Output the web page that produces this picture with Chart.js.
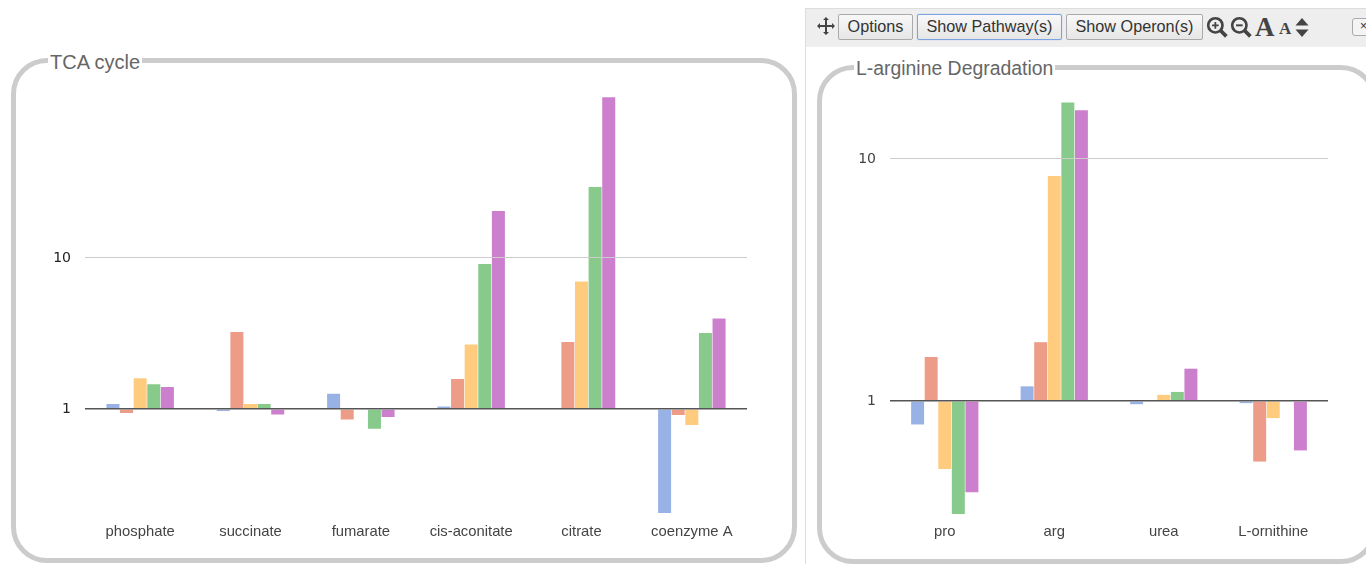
<!DOCTYPE html>
<html>
<head>
<meta charset="utf-8">
<script src="https://cdn.jsdelivr.net/npm/chart.js@4"></script>
<style>
    html, body { margin: 0; padding: 0; background: #fff; overflow: hidden; }
    body { width: 1366px; height: 564px; position: relative; font-family: "Liberation Sans", Arial, sans-serif; }
    .frame { position: absolute; border: 5px solid #ccc; border-radius: 36px; box-sizing: border-box; }
    .frame-title { position: absolute; background: #fff; color: #555; font-size: 20px; line-height: 24px; padding: 0 2px; white-space: nowrap; }
    canvas { position: absolute; left: 0; top: 0; }
    #panel { position: absolute; left: 805px; top: 8px; width: 561px; height: 556px; border-left: 1px solid #ddd; border-top: 1px solid #ddd; box-sizing: border-box; }
    #toolbar { position: absolute; left: 0; top: 0; width: 100%; height: 38px; background: #eee; }
    .btn { position: absolute; top: 5px; height: 26px; box-sizing: border-box; border: 1px solid #aaa; border-radius: 2px; background: linear-gradient(#f8f8f8, #e6e6e6); color: #333; font-size: 16.2px; line-height: 23px; text-align: center; white-space: nowrap; }
    .btn.active { border-color: #7aa3e0; box-shadow: 0 0 1px #7aa3e0; }
    .icon { position: absolute; color: #444; }
</style>
</head>
<body>
<div id="panel">
    <div id="toolbar">
        <svg class="icon" style="left:11px;top:8px" width="18" height="18" viewBox="0 0 18 18" fill="#444">
            <path d="M9 0l3 3h-2v5h5V6l3 3-3 3v-2h-5v5h2l-3 3-3-3h2v-5H3v2L0 9l3-3v2h5V3H6z"/>
        </svg>
        <div class="btn" style="left:32px;width:75px">Options</div>
        <div class="btn active" style="left:111px;width:145px">Show Pathway(s)</div>
        <div class="btn" style="left:260px;width:137px">Show Operon(s)</div>
        <svg class="icon" style="left:400px;top:7px" width="22" height="22" viewBox="0 0 20 20" fill="none" stroke="#444">
            <circle cx="8.5" cy="8.5" r="6.5" stroke-width="2.4"/><path d="M13 13l5.5 5.5" stroke-width="3.4"/><path d="M5.5 8.5h6M8.5 5.5v6" stroke-width="1.6"/>
        </svg>
        <svg class="icon" style="left:424px;top:7px" width="22" height="22" viewBox="0 0 20 20" fill="none" stroke="#444">
            <circle cx="8.5" cy="8.5" r="6.5" stroke-width="2.4"/><path d="M13 13l5.5 5.5" stroke-width="3.4"/><path d="M5.5 8.5h6" stroke-width="1.8"/>
        </svg>
        <div class="icon" style="left:449px;top:3px;font:bold 27px 'Liberation Serif',serif">A</div>
        <div class="icon" style="left:473px;top:10px;font:bold 17px 'Liberation Serif',serif">A</div>
        <svg class="icon" style="left:489px;top:9px" width="14" height="19" viewBox="0 0 14 19" fill="#444">
            <path d="M7 0l6.5 7.5H.5zM7 19l6.5-7.5H.5z"/>
        </svg>
        <div class="btn" style="left:546px;top:9px;width:30px;height:18px;line-height:15px;font-size:12px;text-align:left;padding-left:7px;background:#f4f4f4;border-radius:3px">×</div>
    </div>
</div>

<div class="frame" style="left:11px;top:58px;width:786px;height:505px"></div>
<div class="frame-title" style="left:48px;top:50px;color:#666">TCA cycle</div>
<div class="frame" style="left:817px;top:65px;width:560px;height:499px"></div>
<div class="frame-title" style="left:854px;top:56px;font-size:19.4px;color:#666">L-arginine Degradation</div>

<canvas id="tca" width="800" height="564"></canvas>
<canvas id="arginine" width="566" height="564" style="left:800px"></canvas>

<script>
    const tcaLabels = ['phosphate', 'succinate', 'fumarate', 'cis-aconitate', 'citrate', 'coenzyme A'];
    const tcaSeries1 = [1.08, 0.97, 1.26, 1.04, 1.0, 0.205];
    const tcaSeries2 = [0.94, 3.23, 0.85, 1.58, 2.78, 0.913];
    const tcaSeries3 = [1.60, 1.08, 1.01, 2.67, 6.99, 0.783];
    const tcaSeries4 = [1.46, 1.08, 0.74, 9.12, 29.5, 3.19];
    const tcaSeries5 = [1.40, 0.92, 0.885, 20.5, 116, 3.98];

    const argLabels = ['pro', 'arg', 'urea', 'L-ornithine'];
    const argSeries1 = [0.80, 1.15, 0.97, 0.98];
    const argSeries2 = [1.52, 1.75, 1.0, 0.562];
    const argSeries3 = [0.524, 8.5, 1.06, 0.85];
    const argSeries4 = [0.341, 17.1, 1.09, 1.005];
    const argSeries5 = [0.42, 15.9, 1.36, 0.625];

    const yTicks = [1, 10];
    const colors = ['rgba(51,102,204,.5)', 'rgba(220,57,18,.5)', 'rgba(255,153,0,.5)', 'rgba(16,150,24,.5)', 'rgba(153,0,153,.5)'];

    function makeChart(id, labels, series, o) {
        return new Chart(document.getElementById(id), {
            type: 'bar',
            data: {
                labels,
                datasets: series.map((data, i) => ({
                    data,
                    base: 1,
                    backgroundColor: colors[i],
                    borderWidth: 0
                }))
            },
            options: {
                responsive: false,
                animation: false,
                layout: { padding: { left: 0, top: o.top, right: o.right, bottom: 0 } },
                plugins: { legend: { display: false }, tooltip: { enabled: false } },
                datasets: { bar: { categoryPercentage: o.group, barPercentage: 0.955 } },
                scales: {
                    x: {
                        grid: { display: false, drawTicks: false },
                        border: { display: false },
                        ticks: { color: '#444', font: { family: 'Liberation Sans', size: 14.8 }, padding: o.labelGap, maxRotation: 0, autoSkip: false },
                        afterFit: s => { s.height = o.bottom; }
                    },
                    y: {
                        type: 'logarithmic',
                        bounds: 'data',
                        min: o.min,
                        max: o.max,
                        border: { display: false },
                        grid: {
                            z: 1,
                            drawTicks: false,
                            color: c => c.tick.value === 1 ? '#555' : '#ccc',
                            lineWidth: c => c.tick.value === 1 ? 1.4 : 1
                        },
                        ticks: {
                            color: o.tickColor,
                            font: { family: 'DejaVu Sans', size: 14 },
                            padding: o.tickGap,
                            autoSkip: false,
                            callback: v => String(v)
                        },
                        afterBuildTicks: s => { s.ticks = yTicks.map(value => ({ value })); },
                        afterFit: s => { s.width = o.left; }
                    }
                }
            }
        });
    }

    makeChart('tca', tcaLabels, [tcaSeries1, tcaSeries2, tcaSeries3, tcaSeries4, tcaSeries5], {
        left: 85, right: 53, top: 90, bottom: 49.5, min: 0.2, max: 129.6, group: 0.617, labelGap: 9, tickGap: 14, tickColor: '#222'
    });
    makeChart('arginine', argLabels, [argSeries1, argSeries2, argSeries3, argSeries4, argSeries5], {
        left: 90, right: 38, top: 95, bottom: 47, min: 0.3317, max: 18.38, group: 0.62, labelGap: 6.5, tickGap: 14, tickColor: '#444'
    });
</script>
</body>
</html>
